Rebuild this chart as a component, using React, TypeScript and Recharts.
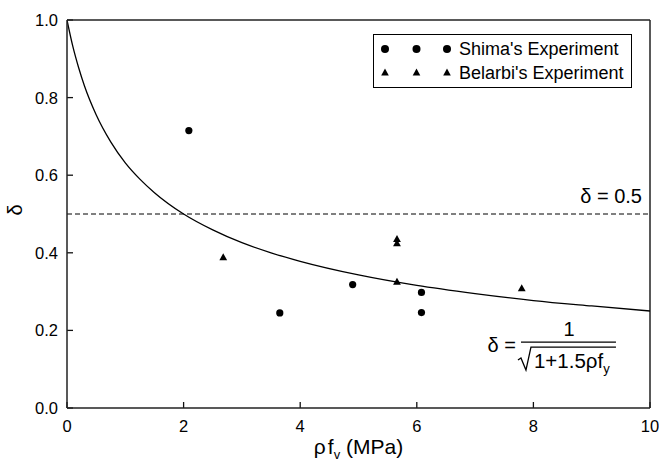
import {
  ComposedChart,
  Line,
  Scatter,
  XAxis,
  YAxis,
  ReferenceLine,
  ReferenceDot,
  Legend,
  Label,
} from "recharts";

const FONT = "'Liberation Sans', Arial, sans-serif";
const TICK_COLOR = "#111";

// curve
const curveX = [0, 0.1, 0.2, 0.3, 0.5, 0.75, 1, 1.25, 1.5, 2, 2.5, 3, 3.5, 4, 5, 6, 7, 8, 9, 10];
const curveY = [1, 0.932, 0.877, 0.83, 0.756, 0.686, 0.632, 0.59, 0.555, 0.5, 0.459, 0.426, 0.4, 0.378, 0.343, 0.316, 0.295, 0.277, 0.263, 0.25];

const shimaX = [2.09, 3.65, 4.9, 6.08, 6.08];
const shimaY = [0.715, 0.245, 0.318, 0.298, 0.246];

const belarbiX = [2.68, 5.66, 5.66, 5.66, 7.8];
const belarbiY = [0.388, 0.435, 0.424, 0.325, 0.308];

const xTicks = [0, 2, 4, 6, 8, 10];
const yTicks = [0, 0.2, 0.4, 0.6, 0.8, 1.0];

const curve = curveX.map((x, i) => ({ x, y: curveY[i] }));
const shima = shimaX.map((x, i) => ({ x, y: shimaY[i] }));
const belarbi = belarbiX.map((x, i) => ({ x, y: belarbiY[i] }));

const Dot = (p: any) => <circle cx={p.cx} cy={p.cy} r={3.6} fill="#000" />;
const Tri = (p: any) => (
  <polygon
    points={`${p.cx},${p.cy - 4.2} ${p.cx + 3.9},${p.cy + 2.8} ${p.cx - 3.9},${p.cy + 2.8}`}
    fill="#000"
  />
);

function YTick(p: any) {
  return (
    <text x={p.x} y={p.y} dy="0.36em" textAnchor="end" fontSize={16.5} fontFamily={FONT} fill="#000">
      {Number(p.payload.value).toFixed(1)}
    </text>
  );
}

function XTick(p: any) {
  return (
    <text x={p.x} y={p.y} dy="0.71em" textAnchor="middle" fontSize={16.5} fontFamily={FONT} fill="#000">
      {p.payload.value}
    </text>
  );
}

// inward tick marks, drawn as short reference lines
const YTickMark = (p: any) => (
  <line x1={p.x1} y1={p.y1} x2={Math.min(p.x1, p.x2) + 6} y2={p.y1} stroke={TICK_COLOR} strokeWidth={1.3} />
);
const XTickMark = (p: any) => (
  <line x1={p.x1} y1={Math.max(p.y1, p.y2)} x2={p.x1} y2={Math.max(p.y1, p.y2) - 6} stroke={TICK_COLOR} strokeWidth={1.3} />
);

function LegendBox() {
  const cols = [12, 43.5, 74];
  return (
    <svg width={260} height={55} style={{ display: "block" }}>
      <rect x={0.5} y={0.5} width={258} height={53} fill="#fff" stroke="#000" strokeWidth={1} />
      {cols.map((c) => (
        <circle key={"c" + c} cx={c} cy={15} r={4} fill="#000" />
      ))}
      {cols.map((c) => (
        <polygon key={"t" + c} points={`${c},${34.5} ${c + 3.8},${41.5} ${c - 3.8},${41.5}`} fill="#000" />
      ))}
      <text x={86} y={21} fontSize={18} fontFamily={FONT} fill="#000">
        Shima's Experiment
      </text>
      <text x={86} y={45} fontSize={18} fontFamily={FONT} fill="#000">
        Belarbi's Experiment
      </text>
    </svg>
  );
}

function XTitle(props: any) {
  const { x, y, width } = props.viewBox;
  return (
    <text x={x + width / 2} y={y + 46} textAnchor="middle" fontSize={21} fontFamily={FONT} fill="#000">
      ρ<tspan dx={2}>f</tspan>
      <tspan fontSize={13} dy={5}>v</tspan>
      <tspan dy={-5}> (MPa)</tspan>
    </text>
  );
}

function YTitle(props: any) {
  const { x, y, height } = props.viewBox;
  const cx = x + 15;
  const cy = y + height / 2 - 4;
  return (
    <text
      x={cx}
      y={cy}
      transform={`rotate(-90 ${cx} ${cy})`}
      textAnchor="middle"
      dy="0.35em"
      fontSize={20}
      fontFamily={FONT}
      fill="#000"
    >
      δ
    </text>
  );
}

function HalfLabel(props: any) {
  const { x, y, width } = props.viewBox;
  return (
    <text x={x + width - 8} y={y - 11} textAnchor="end" fontSize={20} fontFamily={FONT} fill="#000">
      δ = 0.5
    </text>
  );
}

function Formula(props: any) {
  const { x, y } = props.viewBox;
  return (
    <g fontFamily={FONT} fill="#000">
      <text x={x - 53} y={y + 10} textAnchor="end" fontSize={20}>δ =</text>
      <text x={x} y={y - 6} textAnchor="middle" fontSize={20}>1</text>
      <line x1={x - 48} y1={y} x2={x + 47} y2={y} stroke="#000" strokeWidth={1.3} />
      <polyline
        points={`${x - 51},${y + 18} ${x - 48},${y + 16} ${x - 43},${y + 28} ${x - 38},${y + 5} ${x + 47},${y + 5}`}
        fill="none"
        stroke="#000"
        strokeWidth={1.3}
      />
      <text x={x - 35} y={y + 26} fontSize={20.5}>
        1+1.5ρf<tspan fontSize={13} dy={5}>y</tspan>
      </text>
    </g>
  );
}

export default function App() {
  return (
    <div style={{ position: "absolute", left: 0, top: 0, background: "#fff" }}>
      <ComposedChart width={659} height={463} margin={{ top: 20, right: 9, bottom: 0, left: 0 }}>
        <XAxis
          type="number"
          dataKey="x"
          domain={[0, 10]}
          ticks={xTicks}
          allowDataOverflow
          height={55}
          tickSize={0}
          tickMargin={12}
          tickLine={false}
          axisLine={{ stroke: "#222", strokeWidth: 1.5 }}
          tick={<XTick />}
        >
          <Label content={XTitle} />
        </XAxis>
        <YAxis
          type="number"
          dataKey="y"
          domain={[0, 1]}
          ticks={yTicks}
          allowDataOverflow
          width={67}
          tickSize={0}
          tickMargin={9}
          tickLine={false}
          axisLine={{ stroke: "#222", strokeWidth: 1.5 }}
          tick={<YTick />}
        >
          <Label content={YTitle} />
        </YAxis>
        {yTicks.map((v) => (
          <ReferenceLine key={"yt" + v} y={v} shape={YTickMark} />
        ))}
        {xTicks.map((v) => (
          <ReferenceLine key={"xt" + v} x={v} shape={XTickMark} />
        ))}
        <ReferenceLine x={10} stroke="#222" strokeWidth={1.5} />
        <ReferenceLine y={1} stroke="#222" strokeWidth={1.5} />
        <ReferenceLine y={0.5} stroke="#000" strokeWidth={1} strokeDasharray="5 3" label={<HalfLabel />} />
        <Line
          data={curve}
          dataKey="y"
          type="monotone"
          stroke="#000"
          strokeWidth={1.3}
          dot={false}
          isAnimationActive={false}
        />
        <Scatter data={shima} dataKey="y" shape={Dot} isAnimationActive={false} />
        <Scatter data={belarbi} dataKey="y" shape={Tri} isAnimationActive={false} />
        <ReferenceDot x={8.61} y={0.17} r={0} fill="none" stroke="none" label={<Formula />} />
        <Legend
          layout="vertical"
          align="center"
          verticalAlign="middle"
          content={() => <LegendBox />}
          wrapperStyle={{ position: "absolute", left: 373, top: 34, width: 260 }}
        />
      </ComposedChart>
    </div>
  );
}
